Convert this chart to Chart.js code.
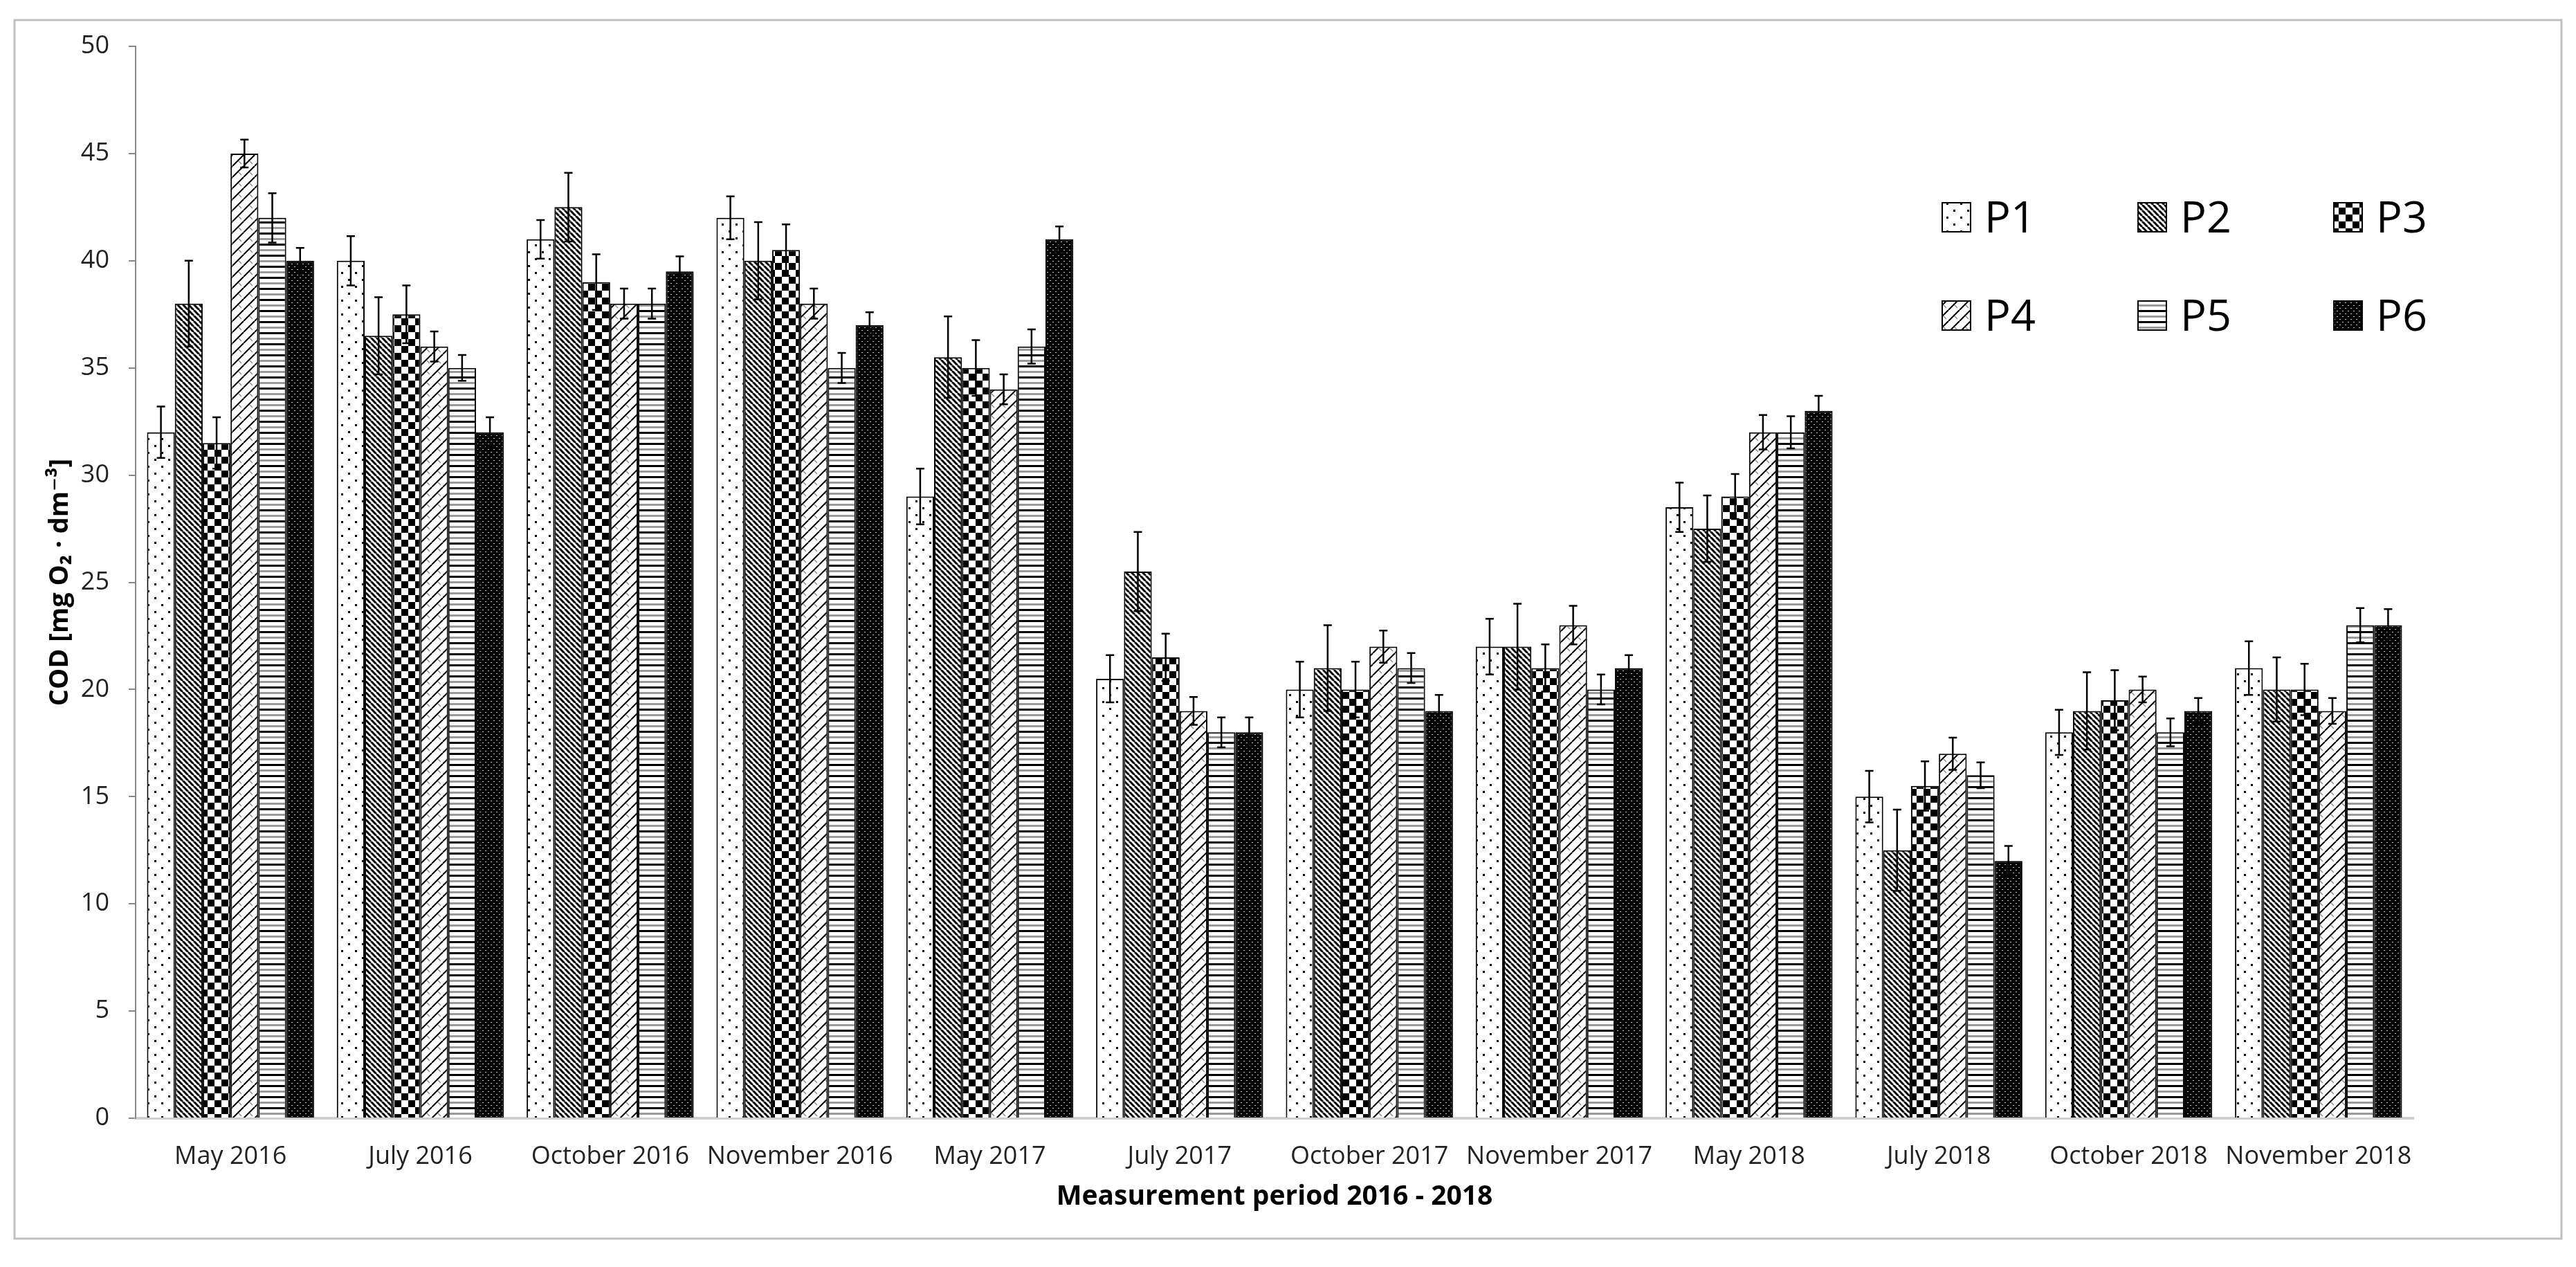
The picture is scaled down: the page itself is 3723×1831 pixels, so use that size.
<!DOCTYPE html>
<html>
<head>
<meta charset="utf-8">
<script src="https://cdn.jsdelivr.net/npm/chart.js@4.4.1/dist/chart.umd.min.js"></script>
<style>
  html, body { margin: 0; padding: 0; background: #fff; }
  canvas { display: block; }
</style>
</head>
<body>
<canvas id="codChart" width="3723" height="1831"></canvas>
<script>
const categories = ['May 2016', 'July 2016', 'October 2016', 'November 2016', 'May 2017', 'July 2017',
    'October 2017', 'November 2017', 'May 2018', 'July 2018', 'October 2018', 'November 2018'];
const seriesNames = ['P1', 'P2', 'P3', 'P4', 'P5', 'P6'];
const yTicks = [0, 5, 10, 15, 20, 25, 30, 35, 40, 45, 50];

// mean COD values per sampling point
const p1 = [32, 40, 41, 42, 29, 20.5, 20, 22, 28.5, 15, 18, 21];
const p2 = [38, 36.5, 42.5, 40, 35.5, 25.5, 21, 22, 27.5, 12.5, 19, 20];
const p3 = [31.5, 37.5, 39, 40.5, 35, 21.5, 20, 21, 29, 15.5, 19.5, 20];
const p4 = [45, 36, 38, 38, 34, 19, 22, 23, 32, 17, 20, 19];
const p5 = [42, 35, 38, 35, 36, 18, 21, 20, 32, 16, 18, 23];
const p6 = [40, 32, 39.5, 37, 41, 18, 19, 21, 33, 12, 19, 23];

// standard deviations (error bars)
const e1 = [1.2, 1.15, 0.9, 1.0, 1.3, 1.1, 1.3, 1.3, 1.15, 1.2, 1.05, 1.25];
const e2 = [2.0, 1.8, 1.6, 1.8, 1.9, 1.85, 2.0, 2.0, 1.55, 1.9, 1.8, 1.5];
const e3 = [1.2, 1.35, 1.3, 1.2, 1.3, 1.1, 1.3, 1.1, 1.05, 1.15, 1.4, 1.2];
const e4 = [0.65, 0.7, 0.7, 0.7, 0.7, 0.65, 0.75, 0.9, 0.8, 0.75, 0.6, 0.6];
const e5 = [1.15, 0.6, 0.7, 0.7, 0.8, 0.7, 0.7, 0.7, 0.75, 0.6, 0.65, 0.8];
const e6 = [0.6, 0.7, 0.7, 0.6, 0.6, 0.7, 0.75, 0.6, 0.7, 0.7, 0.6, 0.75];

const FONT = '"Open Sans", "DejaVu Sans", sans-serif';

// black & white fill patterns like the Excel original
function makePattern(kind) {
    const c = document.createElement('canvas');
    const g = c.getContext('2d');
    if (kind === 'dots') {
        c.width = 20; c.height = 20;
        g.fillStyle = '#fff'; g.fillRect(0, 0, 20, 20);
        g.fillStyle = '#000';
        g.fillRect(3, 3, 3, 3); g.fillRect(13, 13, 3, 3);
    } else if (kind === 'diagDown') {
        c.width = 8; c.height = 8;
        g.fillStyle = '#fff'; g.fillRect(0, 0, 8, 8);
        g.strokeStyle = '#000'; g.lineWidth = 3;
        for (const o of [-8, 0, 8]) {
            g.beginPath(); g.moveTo(o, 0); g.lineTo(o + 8, 8); g.stroke();
        }
    } else if (kind === 'checker') {
        c.width = 20; c.height = 20;
        g.fillStyle = '#fff'; g.fillRect(0, 0, 20, 20);
        g.fillStyle = '#000';
        g.fillRect(0, 0, 10, 10); g.fillRect(10, 10, 10, 10);
    } else if (kind === 'diagUp') {
        c.width = 16; c.height = 16;
        g.fillStyle = '#fff'; g.fillRect(0, 0, 16, 16);
        g.strokeStyle = '#000'; g.lineWidth = 2;
        for (const o of [-16, 0, 16]) {
            g.beginPath(); g.moveTo(o, 16); g.lineTo(o + 16, 0); g.stroke();
        }
        g.strokeStyle = '#8a8a8a'; g.lineWidth = 1.5;
        g.beginPath(); g.moveTo(9, 9); g.lineTo(13, 13); g.stroke();
    } else if (kind === 'hstripes') {
        c.width = 8; c.height = 16;
        g.fillStyle = '#fff'; g.fillRect(0, 0, 8, 16);
        g.fillStyle = '#000'; g.fillRect(0, 0, 8, 3);
        g.fillStyle = '#9a9a9a'; g.fillRect(0, 8, 8, 3);
    } else if (kind === 'darkDots') {
        c.width = 8; c.height = 8;
        g.fillStyle = '#000'; g.fillRect(0, 0, 8, 8);
        g.fillStyle = '#bbb';
        g.fillRect(1, 1, 2, 1); g.fillRect(5, 5, 2, 1);
    }
    return g.createPattern(c, 'repeat');
}

const fills = ['dots', 'diagDown', 'checker', 'diagUp', 'hstripes', 'darkDots'].map(makePattern);
const values = [p1, p2, p3, p4, p5, p6];
const errors = [e1, e2, e3, e4, e5, e6];

// outer grey frame of the chart
const frame = {
    id: 'frame',
    beforeDraw(chart) {
        const ctx = chart.ctx;
        ctx.save();
        ctx.fillStyle = '#fff';
        ctx.fillRect(0, 0, chart.width, chart.height);
        ctx.strokeStyle = '#bfbfbf';
        ctx.lineWidth = 3;
        ctx.strokeRect(21, 29, 3681, 1761);
        ctx.restore();
    }
};

// +/- error bars with caps
const errorBars = {
    id: 'errorBars',
    afterDatasetsDraw(chart) {
        const { ctx, scales: { y } } = chart;
        ctx.save();
        ctx.strokeStyle = '#000';
        ctx.lineWidth = 2.5;
        chart.data.datasets.forEach((ds, i) => {
            const meta = chart.getDatasetMeta(i);
            meta.data.forEach((bar, j) => {
                const v = ds.data[j], e = ds.errors[j];
                const top = y.getPixelForValue(v + e);
                const bot = y.getPixelForValue(v - e);
                ctx.beginPath();
                ctx.moveTo(bar.x, top); ctx.lineTo(bar.x, bot);
                ctx.moveTo(bar.x - 6, top); ctx.lineTo(bar.x + 6, top);
                ctx.moveTo(bar.x - 6, bot); ctx.lineTo(bar.x + 6, bot);
                ctx.stroke();
            });
        });
        ctx.restore();
    }
};

// legend in two rows of three, inside the plot
const gridLegend = {
    id: 'gridLegend',
    afterDraw(chart) {
        const ctx = chart.ctx;
        ctx.save();
        ctx.font = '63px ' + FONT;
        ctx.textBaseline = 'alphabetic';
        chart.data.datasets.forEach((ds, i) => {
            const col = i % 3, row = Math.floor(i / 3);
            const bx = 2807 + col * 283;
            const by = 293 + row * 142;
            ctx.fillStyle = ds.backgroundColor;
            ctx.fillRect(bx, by, 41, 42);
            ctx.strokeStyle = '#000';
            ctx.lineWidth = 2;
            ctx.strokeRect(bx, by, 41, 42);
            ctx.fillStyle = '#000';
            ctx.fillText(ds.label, bx + 61, by + 43);
        });
        ctx.restore();
    }
};

new Chart(document.getElementById('codChart'), {
    type: 'bar',
    data: {
        labels: categories,
        datasets: seriesNames.map((name, i) => ({
            label: name,
            data: values[i],
            errors: errors[i],
            backgroundColor: fills[i],
            borderColor: '#000',
            borderWidth: 2,
            categoryPercentage: 0.88,
            barPercentage: 1.0
        }))
    },
    options: {
        responsive: false,
        devicePixelRatio: 1,
        animation: false,
        layout: { padding: { left: 21, top: 67, right: 235, bottom: 41 } },
        plugins: {
            legend: { display: false },
            tooltip: { enabled: false }
        },
        scales: {
            x: {
                grid: { display: false, drawTicks: false },
                border: { display: true, color: '#d0d0d0', width: 4 },
                ticks: {
                    color: '#222', padding: 34, autoSkip: false, maxRotation: 0,
                    font: { family: FONT, size: 36 }
                },
                title: {
                    display: true, text: 'Measurement period 2016 - 2018', color: '#000',
                    font: { family: FONT, size: 39, weight: 'bold' },
                    padding: { top: 0, bottom: 37 }
                },
                afterFit: s => { s.height = 174; }
            },
            y: {
                min: 0, max: 50,
                afterBuildTicks: s => { s.ticks = yTicks.map(v => ({ value: v })); },
                ticks: { color: '#222', padding: 28, font: { family: FONT, size: 36 } },
                grid: { drawOnChartArea: false, drawTicks: true, tickLength: 10, color: '#888', lineWidth: 2 },
                border: { color: '#888', width: 2 },
                title: {
                    display: true, text: 'COD [mg O\u2082 \u00b7 dm\u207b\u00b3]', color: '#000',
                    font: { family: FONT, size: 38, weight: 'bold' },
                    padding: { top: 43, bottom: 0 }
                },
                afterFit: s => { s.width = 175; }
            }
        }
    },
    plugins: [frame, errorBars, gridLegend]
});
</script>
</body>
</html>
